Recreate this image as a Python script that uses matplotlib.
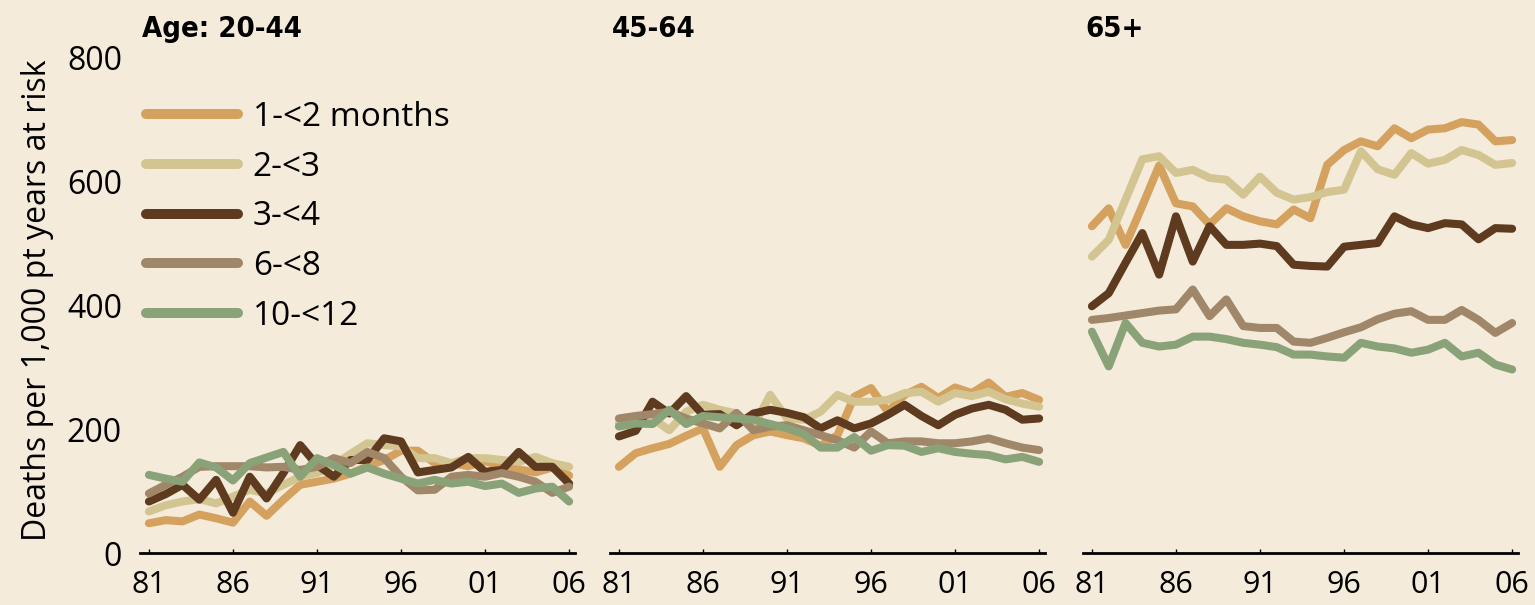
import numpy as np
import matplotlib
matplotlib.use('Agg')
import matplotlib.pyplot as plt

# death rates per 1,000 patient years at risk, by age group and dialysis-start interval
years = np.arange(1981, 2007)
groups = ['Age: 20-44', '45-64', '65+']
labels = ['1-<2 months', '2-<3', '3-<4', '6-<8', '10-<12']
colors = ['#D4A25E', '#D3C592', '#5E3A1F', '#A0876A', '#89A278']

age_20_44 = {
    '1-<2 months': [48, 53, 51, 62, 56, 49, 83, 60, 86, 110, 115, 120, 128, 140, 150, 165,
                    165, 145, 145, 140, 148, 140, 135, 130, 138, 125],
    '2-<3': [67, 77, 83, 87, 80, 91, 102, 96, 110, 123, 129, 142, 160, 177, 174, 172,
             153, 153, 145, 153, 153, 150, 147, 155, 145, 139],
    '3-<4': [83, 95, 110, 86, 118, 65, 123, 88, 129, 174, 142, 123, 150, 150, 185, 180,
             130, 134, 138, 155, 131, 134, 163, 139, 139, 112],
    '6-<8': [96, 110, 123, 139, 140, 140, 140, 138, 139, 134, 139, 153, 145, 163, 153, 123,
             101, 102, 123, 126, 123, 129, 123, 115, 97, 107],
    '10-<12': [126, 120, 115, 146, 138, 117, 145, 154, 163, 123, 153, 142, 128, 138, 128, 120,
               112, 118, 112, 115, 108, 112, 97, 104, 107, 83],
}
age_45_64 = {
    '1-<2 months': [139, 161, 169, 176, 189, 201, 139, 174, 190, 196, 190, 185, 173, 190, 252, 266,
                    228, 255, 268, 250, 267, 258, 275, 252, 258, 247],
    '2-<3': [209, 215, 217, 198, 228, 239, 231, 225, 204, 255, 217, 215, 228, 255, 244, 244,
             247, 258, 260, 244, 258, 253, 260, 248, 241, 236],
    '3-<4': [188, 197, 244, 225, 253, 223, 224, 206, 225, 231, 226, 219, 201, 214, 201, 209,
             223, 239, 221, 206, 223, 233, 239, 231, 215, 217],
    '6-<8': [217, 221, 224, 228, 217, 209, 201, 226, 198, 204, 206, 198, 190, 182, 170, 196,
             177, 180, 180, 177, 177, 180, 185, 177, 170, 166],
    '10-<12': [204, 209, 208, 231, 208, 221, 219, 217, 215, 208, 201, 192, 170, 170, 187, 165,
               174, 173, 163, 169, 163, 160, 158, 151, 155, 147],
}
age_65_up = {
    '1-<2 months': [527, 556, 497, 560, 625, 564, 559, 530, 556, 543, 535, 530, 554, 540, 626, 650,
                    664, 656, 685, 669, 683, 685, 695, 691, 664, 666],
    '2-<3': [478, 505, 570, 635, 640, 613, 618, 605, 602, 578, 607, 581, 570, 574, 582, 586,
             648, 619, 610, 645, 628, 634, 650, 642, 626, 629],
    '3-<4': [398, 419, 468, 516, 449, 543, 470, 527, 497, 497, 499, 495, 465, 463, 462, 494,
             497, 500, 543, 530, 524, 532, 530, 506, 524, 523],
    '6-<8': [376, 379, 383, 387, 391, 393, 425, 382, 409, 366, 363, 363, 341, 339, 347, 356,
             364, 377, 386, 390, 376, 376, 392, 376, 355, 371],
    '10-<12': [357, 301, 371, 339, 333, 336, 349, 349, 345, 339, 336, 332, 320, 320, 317, 315,
               339, 333, 330, 323, 328, 339, 317, 323, 304, 296],
}
panels = [age_20_44, age_45_64, age_65_up]

xticks = [1981, 1986, 1991, 1996, 2001, 2006]
xticklabels = ['81', '86', '91', '96', '01', '06']
yticks = [0, 200, 400, 600, 800]

bg = '#F4EBDB'
font = ['Open Sans', 'DejaVu Sans']
fs = 23

plt.rcParams['font.family'] = font

fig = plt.figure(figsize=(15.35, 6.05), dpi=100, facecolor=bg)

lefts = [140, 610, 1083]
draw_order = [0, 1, 3, 4, 2]
axes = []
for k, (left, data) in enumerate(zip(lefts, panels)):
    ax = fig.add_axes([left / 1535, 52 / 605, 435 / 1535, 496 / 605])
    ax.set_facecolor('none')
    for j in draw_order:
        ax.plot(years, data[labels[j]], color=colors[j], lw=5.8, label=labels[j],
                solid_capstyle='round', solid_joinstyle='round', zorder=2 + j * 0.1)
    ax.set_xlim(1980.47, 2006.35)
    ax.set_ylim(0, 800)
    for s in ['top', 'right', 'left']:
        ax.spines[s].set_visible(False)
    ax.spines['bottom'].set_linewidth(2)
    ax.spines['bottom'].set_color('black')
    ax.set_xticks(xticks)
    ax.set_xticklabels(xticklabels, fontsize=22)
    ax.tick_params(axis='x', direction='in', length=3, width=1, pad=12, colors='black')
    ax.set_yticks(yticks)
    if k == 0:
        ax.set_yticklabels([str(v) for v in yticks], fontsize=fs)
        ax.tick_params(axis='y', length=0, pad=13)
    else:
        ax.set_yticklabels([])
        ax.tick_params(axis='y', length=0)
    fig.text((left + 2) / 1535, 1 - 29 / 605, groups[k], family='DejaVu Sans',
             fontstretch='condensed', fontweight='bold', fontsize=21,
             ha='left', va='center')
    axes.append(ax)

# legend in the first panel, in series order
handles = [plt.Line2D([], [], color=c, lw=7.2, solid_capstyle='round') for c in colors]
axes[0].legend(handles, labels, loc='upper left', bbox_to_anchor=(0.014, 0.911),
               frameon=False, fontsize=24, handlelength=2.75, handletextpad=0.45,
               labelspacing=0.5, borderaxespad=0, borderpad=0)

fig.text(38 / 1535, 1 - 300 / 605, 'Deaths per 1,000 pt years at risk', rotation=90,
         fontsize=23, ha='center', va='center')

fig.savefig('out.png', dpi=100, facecolor=bg)
